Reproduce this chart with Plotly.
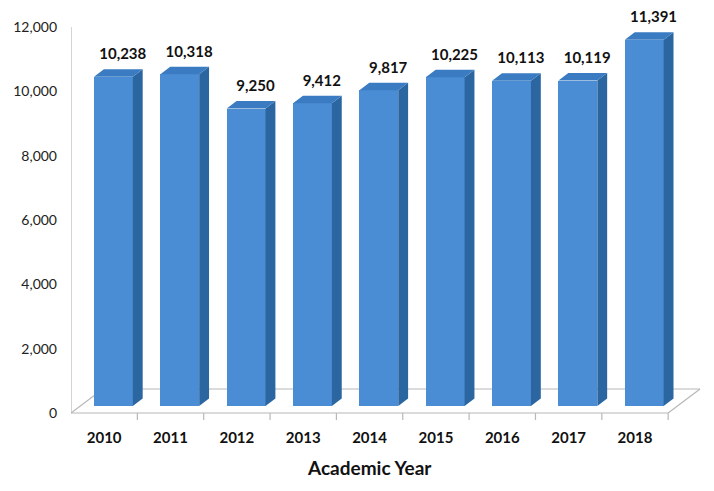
import plotly.graph_objects as go

# Enrolment by academic year
years = ["2010", "2011", "2012", "2013", "2014", "2015", "2016", "2017", "2018"]
values = [10238, 10318, 9250, 9412, 9817, 10225, 10113, 10119, 11391]
y_ticks = [0, 2000, 4000, 6000, 8000, 10000, 12000]

# Oblique 3D look: floor depth vector (x in category units, y in value units)
DEPTH_X = 0.48
DEPTH_Y = 746
F0 = 0.29          # where the bar front sits along the depth
BAR_DEPTH = 0.31   # fraction of depth taken by the bar
BAR_W = 0.585

FRONT = "#4a8dd5"
SIDE = "#2c66a1"
TOP = "#3a7bc2"
FLOOR = "#b8b8b8"

xs = list(range(len(years)))
base = F0 * DEPTH_Y
shift_x = F0 * DEPTH_X
sdx = BAR_DEPTH * DEPTH_X
sdy = BAR_DEPTH * DEPTH_Y

fig = go.Figure()

# Front faces
fig.add_trace(go.Bar(
    x=[x + shift_x for x in xs], y=values, base=[base] * len(values),
    width=BAR_W, marker=dict(color=FRONT, line=dict(width=0)),
    hoverinfo="skip", showlegend=False,
))

# Side and top faces
for x, v in zip(xs, values):
    xl = x + shift_x - BAR_W / 2
    xr = x + shift_x + BAR_W / 2
    yb = base
    yt = base + v
    fig.add_trace(go.Scatter(
        x=[xr, xr, xr + sdx, xr + sdx, xr], y=[yb, yt, yt + sdy, yb + sdy, yb],
        mode="lines", fill="toself", fillcolor=SIDE, line=dict(width=0, color=SIDE),
        hoverinfo="skip", showlegend=False,
    ))
    fig.add_trace(go.Scatter(
        x=[xl, xr, xr + sdx, xl + sdx, xl], y=[yt, yt, yt + sdy, yt + sdy, yt],
        mode="lines", fill="toself", fillcolor=TOP, line=dict(width=0, color=TOP),
        hoverinfo="skip", showlegend=False,
    ))

# Value labels above each bar
fig.add_trace(go.Scatter(
    x=[x + 0.28 for x in xs],
    y=[base + v + sdy + 430 for v in values],
    mode="text", text=[f"{v:,}" for v in values],
    textfont=dict(family="Lato", size=15, color="#111111", weight="bold"),
    cliponaxis=False, hoverinfo="skip", showlegend=False,
))

# Floor outline (behind the bars)
x0, x1 = -0.5, len(years) - 0.5
floor_pts = [
    (x0, 0, x1, 0),
    (x1, 0, x1 + DEPTH_X, DEPTH_Y),
    (x1 + DEPTH_X, DEPTH_Y, x0 + DEPTH_X, DEPTH_Y),
    (x0 + DEPTH_X, DEPTH_Y, x0, 0),
]
shapes = []
for ax, ay, bx, by in floor_pts:
    shapes.append(dict(type="line", xref="x", yref="y", x0=ax, y0=ay, x1=bx, y1=by,
                       line=dict(color=FLOOR, width=1.2), layer="below"))
# category separator ticks under the front edge
for k in range(len(years)):
    xb = k + 0.5
    shapes.append(dict(type="line", xref="x", yref="y", x0=xb, y0=0, x1=xb, y1=-220,
                       line=dict(color=FLOOR, width=1.2), layer="below"))
# value axis line
shapes.append(dict(type="line", xref="x", yref="y", x0=x0, y0=0, x1=x0, y1=12000,
                   line=dict(color=FLOOR, width=1.2), layer="below"))

fig.update_layout(
    width=714, height=491,
    margin=dict(l=71, r=10, t=8, b=68),
    paper_bgcolor="white", plot_bgcolor="white",
    shapes=shapes,
    bargap=0,
    annotations=[dict(
        text="Academic Year", xref="x", yref="paper", x=(len(years) - 1) / 2, y=-0.108,
        showarrow=False, xanchor="center", yanchor="middle",
        font=dict(family="Lato", size=19, color="#111111", weight="bold"),
    )],
)
fig.update_xaxes(
    range=[-0.5, 9.04], tickmode="array", tickvals=xs, ticktext=years,
    showgrid=False, zeroline=False, showline=False, ticks="",
    tickfont=dict(family="Lato", size=15, color="#111111", weight="bold"),
    ticklabelstandoff=4, fixedrange=True,
)
fig.update_yaxes(
    range=[-311, 12591], tickmode="array", tickvals=y_ticks,
    ticktext=[f"{t:,}" for t in y_ticks],
    showgrid=False, zeroline=False, showline=False, ticks="",
    tickfont=dict(family="Lato", size=14, color="#222222"),
    ticklabelstandoff=13, fixedrange=True,
)

fig.write_html("out.html")
